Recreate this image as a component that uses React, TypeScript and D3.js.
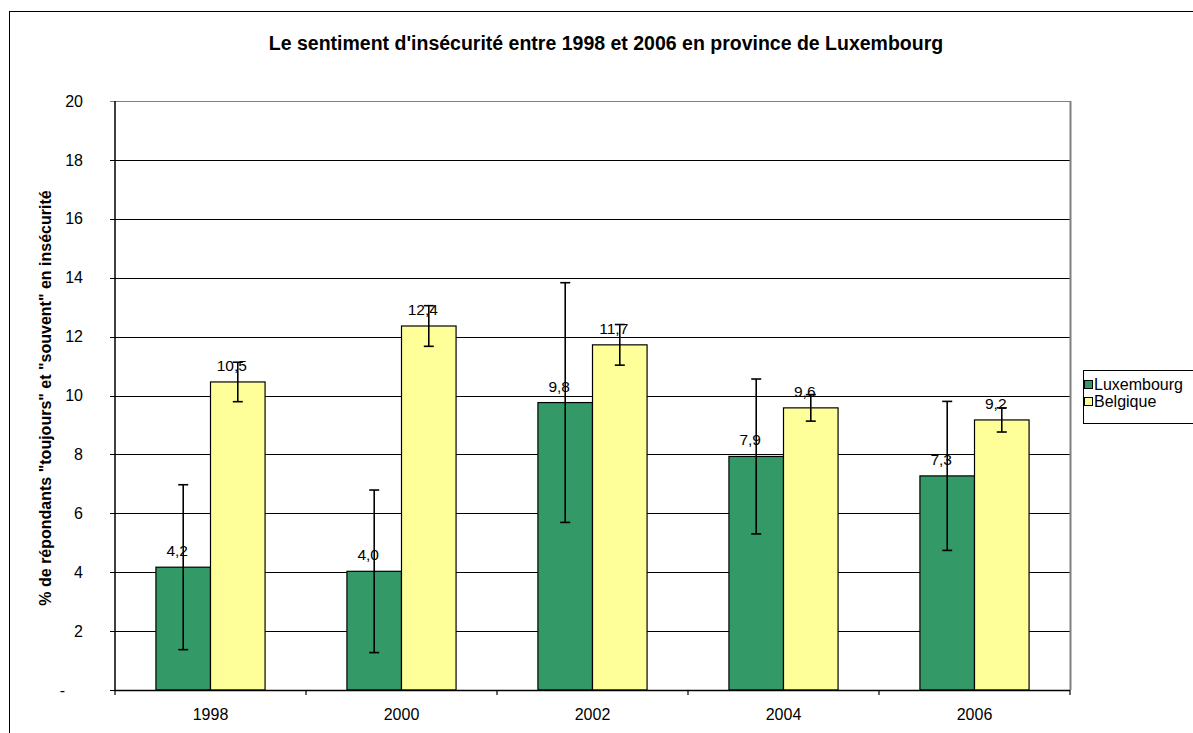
import React from "react";
import * as d3 from "d3";

const years = ["1998", "2000", "2002", "2004", "2006"];
const seriesNames = ["Luxembourg", "Belgique"];
const luxembourg = [4.17, 4.03, 9.76, 7.93, 7.27];
const luxembourgErr = [2.8, 2.76, 4.07, 2.63, 2.53];
const belgique = [10.46, 12.36, 11.72, 9.58, 9.17];
const belgiqueErr = [0.67, 0.69, 0.69, 0.45, 0.41];
const yTicks = [0, 2, 4, 6, 8, 10, 12, 14, 16, 18, 20];
const colors = ["#339966", "#FFFF99"];

const title = "Le sentiment d'insécurité entre 1998 et 2006 en province de Luxembourg";
const yTitle = '% de répondants "toujours" et "souvent" en insécurité';

const FONT = "'Liberation Sans', Arial, sans-serif";

export default function App() {
  const left = 115, right = 1070, top = 101, bottom = 690;
  const x0 = d3.scaleBand<string>().domain(years).range([left, right]).padding(0);
  const x1 = d3
    .scaleBand<string>()
    .domain(seriesNames)
    .range([0, x0.bandwidth()])
    .paddingInner(0)
    .paddingOuter(0.75);
  const y = d3.scaleLinear().domain([0, 20]).range([bottom, top]);

  const data = [
    { name: seriesNames[0], values: luxembourg, errs: luxembourgErr, color: colors[0] },
    { name: seriesNames[1], values: belgique, errs: belgiqueErr, color: colors[1] },
  ];
  const fmt = (v: number) => v.toFixed(1).replace(".", ",");
  const boundaries = [...years.map((yr) => x0(yr)!), right];

  return (
    <svg
      width={1193}
      height={733}
      style={{ position: "absolute", left: 0, top: 0, background: "#fff" }}
      fontFamily={FONT}
    >
      <rect x={9.5} y={11.5} width={1300} height={800} fill="#fff" stroke="#000" strokeWidth={1} />
      <text x={606} y={50} textAnchor="middle" fontWeight="bold" fontSize={19.5} fill="#000">
        {title}
      </text>

      {/* gridlines */}
      {yTicks.map((t) => (
        <line
          key={"g" + t}
          x1={left - 5}
          x2={right}
          y1={Math.round(y(t)) + 0.5}
          y2={Math.round(y(t)) + 0.5}
          stroke={t === 20 ? "#808080" : "#000"}
          strokeWidth={1}
        />
      ))}
      <line x1={right + 0.5} x2={right + 0.5} y1={Math.round(y(20))} y2={bottom} stroke="#808080" strokeWidth={2} />

      {/* y tick labels */}
      {yTicks.map((t) => (
        <text
          key={"yl" + t}
          x={t === 0 ? 65 : 83}
          y={y(t)}
          dy="0.35em"
          textAnchor="end"
          fontSize={16}
          fill="#000"
        >
          {t === 0 ? "-" : String(t)}
        </text>
      ))}

      {/* bars */}
      {data.map((s) =>
        years.map((yr, i) => {
          const bx = x0(yr)! + x1(s.name)!;
          const by = y(s.values[i]);
          return (
            <rect
              key={s.name + yr}
              x={bx}
              y={by}
              width={x1.bandwidth()}
              height={bottom - by}
              fill={s.color}
              stroke="#000"
              strokeWidth={1.2}
            />
          );
        })
      )}

      {/* axes */}
      <line x1={left} x2={left} y1={top} y2={bottom} stroke="#000" strokeWidth={1.5} />
      <line x1={left} x2={right} y1={bottom + 0.5} y2={bottom + 0.5} stroke="#000" strokeWidth={1.5} />
      {boundaries.map((bx, i) => (
        <line key={"xt" + i} x1={bx} x2={bx} y1={bottom} y2={bottom + 5} stroke="#000" strokeWidth={1.2} />
      ))}
      {years.map((yr) => (
        <text
          key={"xl" + yr}
          x={x0(yr)! + x0.bandwidth() / 2}
          y={720}
          textAnchor="middle"
          fontSize={16}
          fill="#000"
        >
          {yr}
        </text>
      ))}

      {/* data labels */}
      {data.map((s) =>
        years.map((yr, i) => {
          const cx = x0(yr)! + x1(s.name)! + x1.bandwidth() / 2;
          return (
            <text
              key={"dl" + s.name + yr}
              x={cx - 6}
              y={y(s.values[i]) - 11}
              textAnchor="middle"
              fontSize={15.5}
              fill="#000"
            >
              {fmt(s.values[i])}
            </text>
          );
        })
      )}

      {/* error bars */}
      {data.map((s) =>
        years.map((yr, i) => {
          const cx = x0(yr)! + x1(s.name)! + x1.bandwidth() / 2;
          const yt = y(s.values[i] + s.errs[i]);
          const yb = y(s.values[i] - s.errs[i]);
          return (
            <g key={"eb" + s.name + yr} stroke="#000" strokeWidth={1.6}>
              <line x1={cx} x2={cx} y1={yt} y2={yb} />
              <line x1={cx - 5} x2={cx + 5} y1={yt} y2={yt} />
              <line x1={cx - 5} x2={cx + 5} y1={yb} y2={yb} />
            </g>
          );
        })
      )}

      {/* y title */}
      <text
        transform={`translate(51, 398) rotate(-90)`}
        textAnchor="middle"
        fontWeight="bold"
        fontSize={16}
        fill="#000"
      >
        {yTitle}
      </text>

      {/* legend */}
      <rect x={1083.5} y={370.5} width={120} height={53} fill="#fff" stroke="#000" strokeWidth={1} />
      {data.map((s, i) => (
        <g key={"lg" + s.name}>
          <rect
            x={1084.5}
            y={380.5 + i * 17}
            width={8}
            height={8}
            fill={s.color}
            stroke="#000"
            strokeWidth={1}
          />
          <text x={1094} y={390 + i * 17} fontSize={16} fill="#000">
            {s.name}
          </text>
        </g>
      ))}
    </svg>
  );
}
